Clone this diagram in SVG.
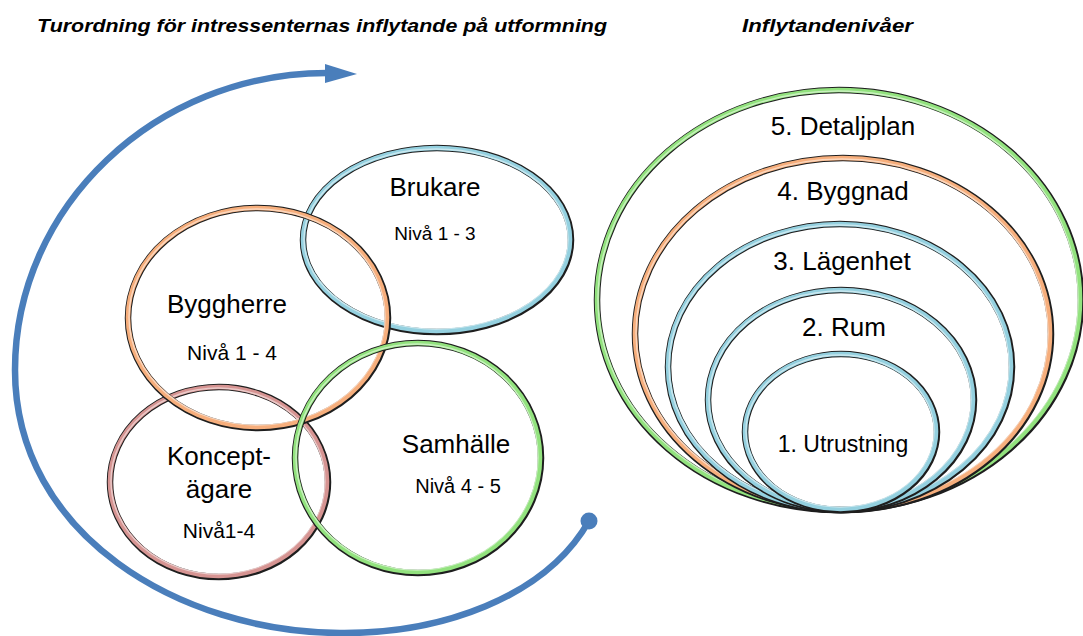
<svg xmlns="http://www.w3.org/2000/svg" width="1083" height="636" viewBox="0 0 1083 636">
  <defs>
    <style>
      text { font-family: "Liberation Sans", Arial, sans-serif; fill: #000; }
      .title { font-size: 19px; font-weight: bold; font-style: italic; }
      .big { font-size: 26px; text-anchor: middle; }
      .small { font-size: 20px; text-anchor: middle; }
      .lvl { font-size: 26px; text-anchor: middle; }
      .edge { fill: none; stroke: #1e1e1e; stroke-width: 6.5; }
      .band { fill: none; stroke-width: 4.6; }
      .hl { fill: none; stroke-width: 1.4; stroke: #ffffff; stroke-opacity: 0.5; }
      .blue { stroke: #94d0df; }
      .orange { stroke: #f6ae7c; }
      .green { stroke: #92e27e; }
      .red { stroke: #d69492; }
      .flow { fill: none; stroke: #4a7ebb; stroke-width: 6.5; }
    </style>
  </defs>

  <rect width="1083" height="636" fill="#ffffff"/>

  <!-- headings -->
  <text class="title" x="37" y="32" textLength="570" lengthAdjust="spacingAndGlyphs">Turordning för intressenternas inflytande på utformning</text>
  <text class="title" x="742" y="32" textLength="171" lengthAdjust="spacingAndGlyphs">Inflytandenivåer</text>

  <!-- turn-order sweep -->
  <g id="connectors">
    <path class="flow" d="M 589 521 C 545 598, 440 634, 340 633 C 180 632, 15 535, 15 370 C 15 206, 156 73, 327 73"/>
    <polygon points="325,64 357,74 325,83" fill="#4a7ebb"/>
    <circle cx="589" cy="521" r="8.5" fill="#4a7ebb"/>
  </g>

  <!-- stakeholders -->
  <g id="konceptagare">
    <ellipse class="edge" cx="219" cy="482" rx="109" ry="95"/>
    <ellipse class="band red" cx="218.5" cy="481.5" rx="108.5" ry="94.5"/>
    <ellipse class="hl" cx="218" cy="481" rx="107" ry="93"/>
    <text class="big" x="219" y="465">Koncept-</text>
    <text class="big" x="219" y="498">ägare</text>
    <text class="small" x="219" y="538" style="font-size:21px">Nivå1-4</text>
  </g>

  <g id="brukare">
    <ellipse class="edge" cx="437" cy="240" rx="134" ry="92"/>
    <ellipse class="band blue" cx="436.5" cy="239.5" rx="133.5" ry="91.5"/>
    <ellipse class="hl" cx="436" cy="239" rx="132" ry="90"/>
    <text class="big" x="435" y="196">Brukare</text>
    <text class="small" x="435" y="240" style="font-size:19px">Nivå 1 - 3</text>
  </g>

  <g id="byggherre">
    <ellipse class="edge" cx="258" cy="318" rx="130" ry="110"/>
    <ellipse class="band orange" cx="257.5" cy="317.5" rx="129.5" ry="109.5"/>
    <ellipse class="hl" cx="257" cy="317" rx="128" ry="108"/>
    <text class="big" x="227" y="313">Byggherre</text>
    <text class="small" x="232" y="360" style="font-size:21px">Nivå 1 - 4</text>
  </g>

  <g id="samhalle">
    <ellipse class="edge" cx="418" cy="458" rx="123" ry="115"/>
    <ellipse class="band green" cx="417.5" cy="457.5" rx="122.5" ry="114.5"/>
    <ellipse class="hl" cx="417" cy="457" rx="121" ry="113"/>
    <text class="big" x="456" y="453">Samhälle</text>
    <text class="small" x="458" y="493">Nivå 4 - 5</text>
  </g>

  <!-- influence levels, nested -->
  <g id="detaljplan">
    <ellipse class="edge" cx="839" cy="300" rx="242" ry="210"/>
    <ellipse class="band green" cx="838.5" cy="299.5" rx="241.5" ry="209.5"/>
    <ellipse class="hl" cx="838" cy="299" rx="240" ry="208"/>
    <text class="lvl" x="843" y="135">5. Detaljplan</text>
  </g>

  <g id="byggnad">
    <ellipse class="edge" cx="843" cy="334" rx="208" ry="176"/>
    <ellipse class="band orange" cx="842.5" cy="333.5" rx="207.5" ry="175.5"/>
    <ellipse class="hl" cx="842" cy="333" rx="206" ry="174"/>
    <text class="lvl" x="843" y="200">4. Byggnad</text>
  </g>

  <g id="lagenhet">
    <ellipse class="edge" cx="840" cy="367" rx="172" ry="143"/>
    <ellipse class="band blue" cx="839.5" cy="366.5" rx="171.5" ry="142.5"/>
    <ellipse class="hl" cx="839" cy="366" rx="170" ry="141"/>
    <text class="lvl" x="842" y="270">3. Lägenhet</text>
  </g>

  <g id="rum">
    <ellipse class="edge" cx="841" cy="400" rx="133" ry="110"/>
    <ellipse class="band blue" cx="840.5" cy="399.5" rx="132.5" ry="109.5"/>
    <ellipse class="hl" cx="840" cy="399" rx="131" ry="108"/>
    <text class="lvl" x="844" y="336">2. Rum</text>
  </g>

  <g id="utrustning">
    <ellipse class="edge" cx="841" cy="432" rx="96" ry="78"/>
    <ellipse class="band blue" cx="840.5" cy="431.5" rx="95.5" ry="77.5"/>
    <ellipse class="hl" cx="840" cy="431" rx="94" ry="76"/>
    <text class="lvl" x="843" y="452" style="font-size:23px">1. Utrustning</text>
  </g>
</svg>
